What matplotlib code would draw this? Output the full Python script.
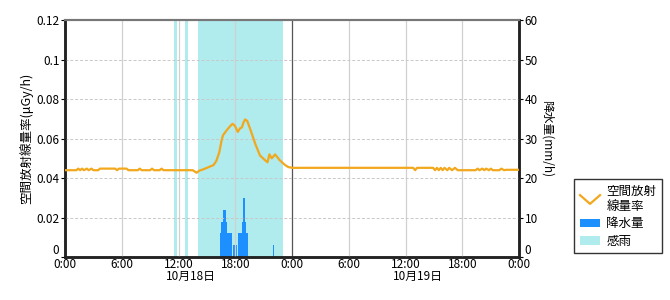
import matplotlib
matplotlib.use('Agg')
import matplotlib.pyplot as plt
from matplotlib.lines import Line2D
from matplotlib.patches import Patch
from matplotlib.legend_handler import HandlerBase

plt.rcParams['font.family'] = ['Noto Sans CJK JP', 'DejaVu Sans']

# 空間放射線量率 (hours since 10/18 0:00, uGy/h)
dose_t = [0.0, 1.2, 1.4, 1.6, 1.8, 2.0, 2.3, 2.5, 2.8, 3.0, 3.5, 3.7, 5.3, 5.5, 5.7,
          6.5, 6.7, 7.7, 7.9, 8.1, 9.0, 9.2, 9.4, 10.0, 10.2, 10.4, 13.5, 13.9, 14.2,
          14.6, 15.2, 15.7, 16.0, 16.3, 16.56, 16.7, 17.1, 17.4, 17.7, 17.95, 18.26,
          18.5, 18.7, 18.85, 19.03, 19.25, 19.56, 20.1, 20.6, 21.15, 21.4, 21.6, 21.85,
          22.2, 22.7, 23.26, 23.6, 24.0, 36.8, 37.0, 37.2, 38.9, 39.1, 39.3, 39.5,
          39.7, 39.9, 40.1, 40.4, 40.6, 40.9, 41.2, 41.5, 41.8, 43.4, 43.6, 43.8,
          44.1, 44.3, 44.5, 44.8, 45.0, 45.2, 45.9, 46.1, 46.4, 46.6, 48.0]
dose_v = [0.0440, 0.0440, 0.0448, 0.0440, 0.0448, 0.0440, 0.0448, 0.0440, 0.0448, 0.0440,
          0.0440, 0.0448, 0.0448, 0.0440, 0.0448, 0.0448, 0.0440, 0.0440, 0.0448, 0.0440,
          0.0440, 0.0448, 0.0440, 0.0440, 0.0448, 0.0440, 0.0440, 0.0427, 0.0438, 0.0444,
          0.0456, 0.0466, 0.0488, 0.0530, 0.0594, 0.0617, 0.0643, 0.0660, 0.0675, 0.0665,
          0.0634, 0.0652, 0.0657, 0.0680, 0.0697, 0.0690, 0.0650, 0.0574, 0.0515, 0.0490,
          0.0480, 0.0520, 0.0500, 0.0520, 0.0490, 0.0466, 0.0456, 0.0452, 0.0452, 0.0440,
          0.0452, 0.0452, 0.0440, 0.0452, 0.0440, 0.0452, 0.0440, 0.0452, 0.0440, 0.0452,
          0.0440, 0.0452, 0.0440, 0.0440, 0.0440, 0.0448, 0.0440, 0.0448, 0.0440, 0.0448,
          0.0440, 0.0448, 0.0440, 0.0440, 0.0448, 0.0440, 0.0442, 0.0442]

# 降水量 (10-minute bins, mm/h)
rain_t = [16.33, 16.5, 16.67, 16.83, 17.0, 17.17, 17.33, 17.5, 17.75, 18.0,
          18.33, 18.5, 18.67, 18.83, 19.0, 19.17, 21.96]
rain_v = [6, 9, 12, 12, 9, 6, 6, 6, 3, 3, 6, 6, 9, 15, 9, 6, 3]

# 感雨 periods (start, end hours)
sense_start = [11.52, 12.69, 14.06]
sense_end = [11.87, 13.04, 23.0]

xtick_pos = [0, 6, 12, 18, 24, 30, 36, 42, 48]
xtick_lab = ['0:00', '6:00', '12:00', '18:00', '0:00', '6:00', '12:00', '18:00', '0:00']
date_pos = [12, 36]
date_lab = ['10月18日', '10月19日']

line_c = '#F2A81D'
rain_c = '#1E8FFF'
sense_c = '#B0EBEE'


class VLineHandler(HandlerBase):
    # legend icon drawn as a "V" like the original chart
    def create_artists(self, legend, orig, xd, yd, w, h, fontsize, trans):
        ln = Line2D([xd, xd + w / 2, xd + w], [yd + h, yd, yd + h],
                    color=orig.get_color(), lw=orig.get_linewidth(), transform=trans)
        return [ln]


fig = plt.figure(figsize=(6.7, 3.0), dpi=100)
ax2 = fig.add_axes([0.097, 0.143, 0.678, 0.79])
ax = ax2.twinx()
ax.yaxis.tick_left()
ax.yaxis.set_label_position('left')
ax2.yaxis.tick_right()
ax2.yaxis.set_label_position('right')

for s, e in zip(sense_start, sense_end):
    ax2.axvspan(s, e, color=sense_c, lw=0, zorder=1)
ax2.bar(rain_t, rain_v, width=1/6, align='edge', color=rain_c, lw=0, zorder=2)
ax2.set_ylim(0, 60)
ax2.set_yticks(range(0, 61, 10))

ax.set_zorder(ax2.get_zorder() + 1)
ax.patch.set_visible(False)
ax.plot(dose_t, dose_v, color=line_c, lw=1.6, zorder=3)
ax.set_ylim(0, 0.12)
ax.set_yticks([0, 0.02, 0.04, 0.06, 0.08, 0.1, 0.12])
ax.set_yticklabels(['0', '0.02', '0.04', '0.06', '0.08', '0.1', '0.12'])
ax.set_xlim(0, 48)
ax.set_xticks(xtick_pos)
ax2.set_xticks(xtick_pos)
ax2.set_xticklabels(xtick_lab)
ax.grid(axis='y', color='#C8C8C8', ls=(0, (3, 2)), lw=0.7)
for x in xtick_pos[1:-1]:
    ax.axvline(x, color='#555555' if x == 24 else '#D0D0D0', lw=0.9, zorder=0.5)

for d, lab in zip(date_pos, date_lab):
    ax2.text(d - 1.3, -0.055, lab, transform=ax2.get_xaxis_transform(),
             ha='left', va='top', fontsize=8.5)

for a in (ax, ax2):
    a.spines['left'].set_color('#222222')
    a.spines['left'].set_linewidth(1.8)
    a.spines['right'].set_color('#222222')
    a.spines['right'].set_linewidth(1.8)
    a.spines['bottom'].set_color('#222222')
    a.spines['bottom'].set_linewidth(1.8)
    a.spines['top'].set_color('#777777')
    a.spines['top'].set_linewidth(1.5)
    a.tick_params(labelsize=8.5, length=3, width=0.8, pad=1)
ax2.tick_params(axis='x', length=0, pad=1)

# the zero labels sit just above the bottom axis, as in the original
ax.get_yticklabels()[0].set_va('bottom')
ax2.get_yticklabels()[0].set_va('bottom')

ax.set_ylabel('空間放射線量率(μGy/h)', fontsize=9, labelpad=2)
ax2.set_ylabel('降水量(mm/h)', fontsize=8.5, rotation=270, labelpad=11)

handles = [Line2D([], [], color=line_c, lw=1.6),
           Patch(facecolor=rain_c, lw=0),
           Patch(facecolor=sense_c, lw=0)]
labels = ['空間放射\n線量率', '降水量', '感雨']
leg = fig.legend(handles, labels, loc='lower left', bbox_to_anchor=(0.848, 0.135),
                 fontsize=9, frameon=True, fancybox=False, edgecolor='black',
                 handlelength=1.6, handletextpad=0.5, borderpad=0.45, labelspacing=0.35,
                 handler_map={Line2D: VLineHandler()})
leg.get_frame().set_linewidth(1.0)

fig.savefig('out.png', dpi=100)
